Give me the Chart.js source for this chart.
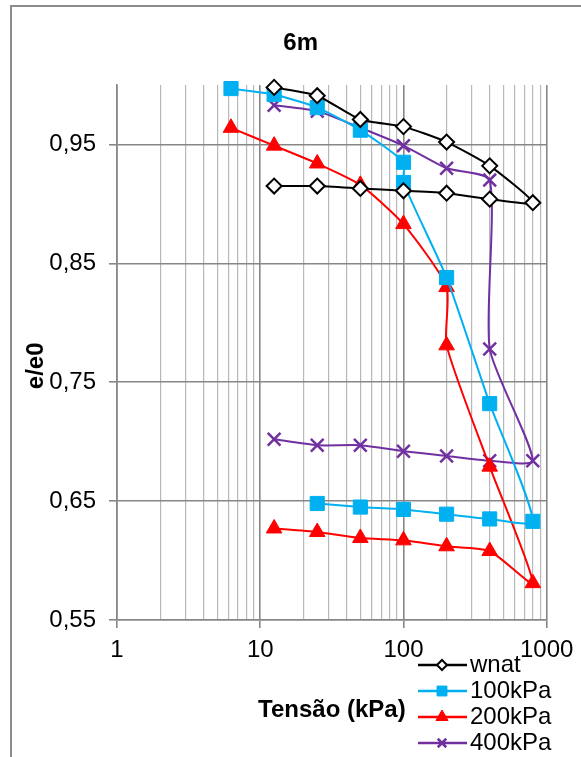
<!DOCTYPE html>
<html>
<head>
<meta charset="utf-8">
<script src="https://cdn.jsdelivr.net/npm/chart.js@4.4.0/dist/chart.umd.min.js"></script>
<style>
body { margin: 0; background: #fff; }
#moldura { position: absolute; left: 10px; top: 5px; width: 620px; height: 800px; border-left: 2px solid #8c8c8c; border-top: 2px solid #8c8c8c; }
#grafico { position: absolute; left: 0; top: 0; }
</style>
</head>
<body>
<div id="moldura"></div>
<canvas id="grafico" width="581" height="757"></canvas>
<script>
// valores (e/e0 x tensao)
const xWnat = [12.5, 25, 50, 100, 200, 400, 800, 400, 200, 100, 50, 25, 12.5];
const yWnat = [0.998, 0.991, 0.971, 0.965, 0.952, 0.932, 0.901, 0.904, 0.909, 0.911, 0.913, 0.915, 0.915];

const x100 = [6.25, 12.5, 25, 50, 100, 100, 200, 400, 800, 400, 200, 100, 50, 25];
const y100 = [0.997, 0.992, 0.981, 0.962, 0.935, 0.918, 0.838, 0.732, 0.633, 0.635, 0.639, 0.643, 0.645, 0.648];

const x200 = [6.25, 12.5, 25, 50, 100, 200, 200, 400, 800, 400, 200, 100, 50, 25, 12.5];
const y200 = [0.964, 0.949, 0.934, 0.916, 0.883, 0.830, 0.781, 0.679, 0.581, 0.608, 0.612, 0.617, 0.619, 0.624, 0.627];

const x400 = [12.5, 25, 50, 100, 200, 400, 400, 800, 400, 200, 100, 50, 25, 12.5];
const y400 = [0.983, 0.978, 0.964, 0.949, 0.930, 0.920, 0.778, 0.684, 0.684, 0.688, 0.692, 0.697, 0.697, 0.702];

const series = ['wnat', '100kPa', '200kPa', '400kPa'];
const yTicks = [0.55, 0.65, 0.75, 0.85, 0.95];
const xDecadas = [1, 10, 100, 1000];

const fonte = '"Liberation Sans", Arial, sans-serif';

function pontos(xs, ys) {
    return xs.map((x, i) => ({ x: x, y: ys[i] }));
}

function ehMaior(v) {
    return xDecadas.indexOf(v) >= 0;
}

// legenda desenhada ao lado, em baixo, como no original
const legendaLateral = {
    id: 'legendaLateral',
    afterDraw(chart) {
        const ctx = chart.ctx;
        const raios = [5, 7, 7, 6];
        chart.data.datasets.forEach((ds, i) => {
            const y = 665 + i * 26;
            ctx.save();
            ctx.strokeStyle = ds.borderColor;
            ctx.lineWidth = 2.5;
            ctx.beginPath();
            ctx.moveTo(418, y);
            ctx.lineTo(467, y);
            ctx.stroke();
            ctx.fillStyle = ds.pointBackgroundColor;
            ctx.strokeStyle = ds.pointBorderColor;
            ctx.lineWidth = ds.pointBorderWidth;
            Chart.helpers.drawPoint(ctx, {
                pointStyle: ds.pointStyle,
                radius: raios[i],
                rotation: 0,
                borderWidth: ds.pointBorderWidth
            }, 442, y);
            ctx.fillStyle = '#000';
            ctx.font = '24px ' + fonte;
            ctx.textBaseline = 'middle';
            ctx.textAlign = 'left';
            ctx.fillText(ds.label, 470, y);
            ctx.restore();
        });
    }
};

const ctx = document.getElementById('grafico');
new Chart(ctx, {
    type: 'scatter',
    data: {
        datasets: [{
            label: series[0],
            data: pontos(xWnat, yWnat),
            borderColor: '#000000',
            pointBackgroundColor: '#ffffff',
            pointBorderColor: '#000000',
            pointBorderWidth: 2,
            pointStyle: 'rectRot',
            pointRadius: 7.5
        }, {
            label: series[1],
            data: pontos(x100, y100),
            borderColor: '#00B0F0',
            pointBackgroundColor: '#00B0F0',
            pointBorderColor: '#00B0F0',
            pointBorderWidth: 1,
            pointStyle: 'rect',
            pointRadius: 10
        }, {
            label: series[2],
            data: pontos(x200, y200),
            borderColor: '#FF0000',
            pointBackgroundColor: '#FF0000',
            pointBorderColor: '#FF0000',
            pointBorderWidth: 1,
            pointStyle: 'triangle',
            pointRadius: 9
        }, {
            label: series[3],
            data: pontos(x400, y400),
            borderColor: '#7030A0',
            pointBackgroundColor: '#7030A0',
            pointBorderColor: '#7030A0',
            pointBorderWidth: 2.5,
            pointStyle: 'crossRot',
            pointRadius: 9
        }]
    },
    options: {
        responsive: false,
        animation: false,
        layout: { padding: { left: 0, right: 33, top: 0, bottom: 0 } },
        datasets: {
            scatter: {
                showLine: true,
                borderWidth: 2,
                tension: 0.2,
                clip: false
            }
        },
        plugins: {
            legend: { display: false },
            tooltip: { enabled: false },
            title: {
                display: true,
                // espacos no inicio para deslocar o titulo um pouco para a direita
                text: '        6m',
                color: '#000',
                font: { family: fonte, size: 24, weight: 'bold', lineHeight: 1.2 },
                padding: { top: 28.6, bottom: 27.6 }
            }
        },
        scales: {
            x: {
                type: 'logarithmic',
                min: 1,
                max: 1000,
                afterBuildTicks(scale) {
                    const t = [];
                    for (let d = 1; d < 1000; d *= 10) {
                        for (let k = 1; k < 10; k++) t.push({ value: k * d, major: k === 1 });
                    }
                    t.push({ value: 1000, major: true });
                    scale.ticks = t;
                },
                afterFit(scale) { scale.height = 137; },
                ticks: {
                    autoSkip: false,
                    maxRotation: 0,
                    padding: 7.6,
                    color: '#000',
                    font: { family: fonte, size: 24 },
                    callback: (v) => ehMaior(v) ? String(v) : ''
                },
                grid: {
                    color: (c) => c.tick && ehMaior(c.tick.value) ? '#878787' : '#b8b8b8',
                    lineWidth: (c) => c.tick && ehMaior(c.tick.value) ? 1.6 : 1.2,
                    tickLength: 8,
                    tickColor: (c) => c.tick && ehMaior(c.tick.value) ? '#878787' : 'rgba(0,0,0,0)'
                },
                border: { color: '#878787', width: 1.6 },
                title: {
                    display: true,
                    text: 'Tensão (kPa)',
                    color: '#000',
                    font: { family: fonte, size: 24, weight: 'bold', lineHeight: 1.2 },
                    padding: { top: 0, bottom: 32.6 }
                }
            },
            y: {
                min: 0.55,
                max: 1.0,
                afterBuildTicks(scale) {
                    scale.ticks = yTicks.map(v => ({ value: v }));
                },
                afterFit(scale) { scale.width = 117; },
                ticks: {
                    padding: 13,
                    color: '#000',
                    font: { family: fonte, size: 24 },
                    callback: (v) => v.toFixed(2).replace('.', ',')
                },
                grid: {
                    color: '#878787',
                    lineWidth: 1.6,
                    tickLength: 8
                },
                border: { color: '#878787', width: 1.6 },
                title: {
                    display: true,
                    // espacos no fim para descer o titulo como no original
                    text: 'e/e0    ',
                    color: '#000',
                    font: { family: fonte, size: 24, weight: 'bold', lineHeight: 1.2 },
                    padding: { top: 21.6, bottom: 0 }
                }
            }
        }
    },
    plugins: [legendaLateral]
});
</script>
</body>
</html>
